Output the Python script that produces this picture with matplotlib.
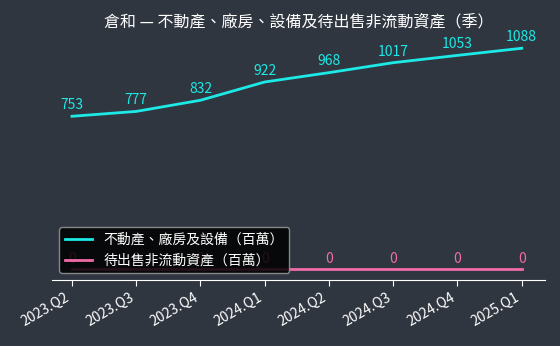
import matplotlib
matplotlib.use('Agg')
import matplotlib.pyplot as plt

plt.rcParams['font.family'] = ['Noto Sans CJK TC', 'DejaVu Sans']

# data
quarters = ['2023.Q2', '2023.Q3', '2023.Q4', '2024.Q1', '2024.Q2', '2024.Q3', '2024.Q4', '2025.Q1']
ppe = [753, 777, 832, 922, 968, 1017, 1053, 1088]
held_for_sale = [0, 0, 0, 0, 0, 0, 0, 0]

bg = '#2f3640'
cyan = '#1de9e6'
pink = '#f06ba8'

fig = plt.figure(figsize=(5.6, 3.46), dpi=100, facecolor=bg)
ax = fig.add_axes([0.093, 0.191, 0.88, 0.70], facecolor=bg)

x = list(range(len(quarters)))
ax.plot(x, ppe, color=cyan, lw=2, label='不動產、廠房及設備（百萬）')
ax.plot(x, held_for_sale, color=pink, lw=2, label='待出售非流動資產（百萬）')

for i, v in enumerate(ppe):
    ax.annotate(str(v), (i, v), xytext=(0, 3), textcoords='offset points',
                ha='center', va='bottom', color=cyan, fontsize=10)
for i, v in enumerate(held_for_sale):
    ax.annotate(str(v), (i, v), xytext=(0, 2), textcoords='offset points',
                ha='center', va='bottom', color=pink, fontsize=10)

ax.set_xlim(-0.31, 7.36)
ax.set_ylim(-53, 1140)
ax.set_xticks(x)
ax.set_xticklabels(quarters, rotation=30, ha='right', color='white', fontsize=10)
ax.set_yticks([])
for s in ['left', 'right', 'top']:
    ax.spines[s].set_visible(False)
ax.spines['bottom'].set_color('white')
ax.tick_params(axis='x', colors='white', length=4)

ax.set_title('倉和 — 不動產、廠房、設備及待出售非流動資產（季）', color='white', fontsize=11.5, pad=8)

leg = ax.legend(loc='lower left', bbox_to_anchor=(0.0, 0.0), fontsize=10,
                facecolor='black', edgecolor='#999999', framealpha=0.85, labelcolor='white')
leg.set_zorder(5)

fig.savefig('out.png', dpi=100, facecolor=bg)
